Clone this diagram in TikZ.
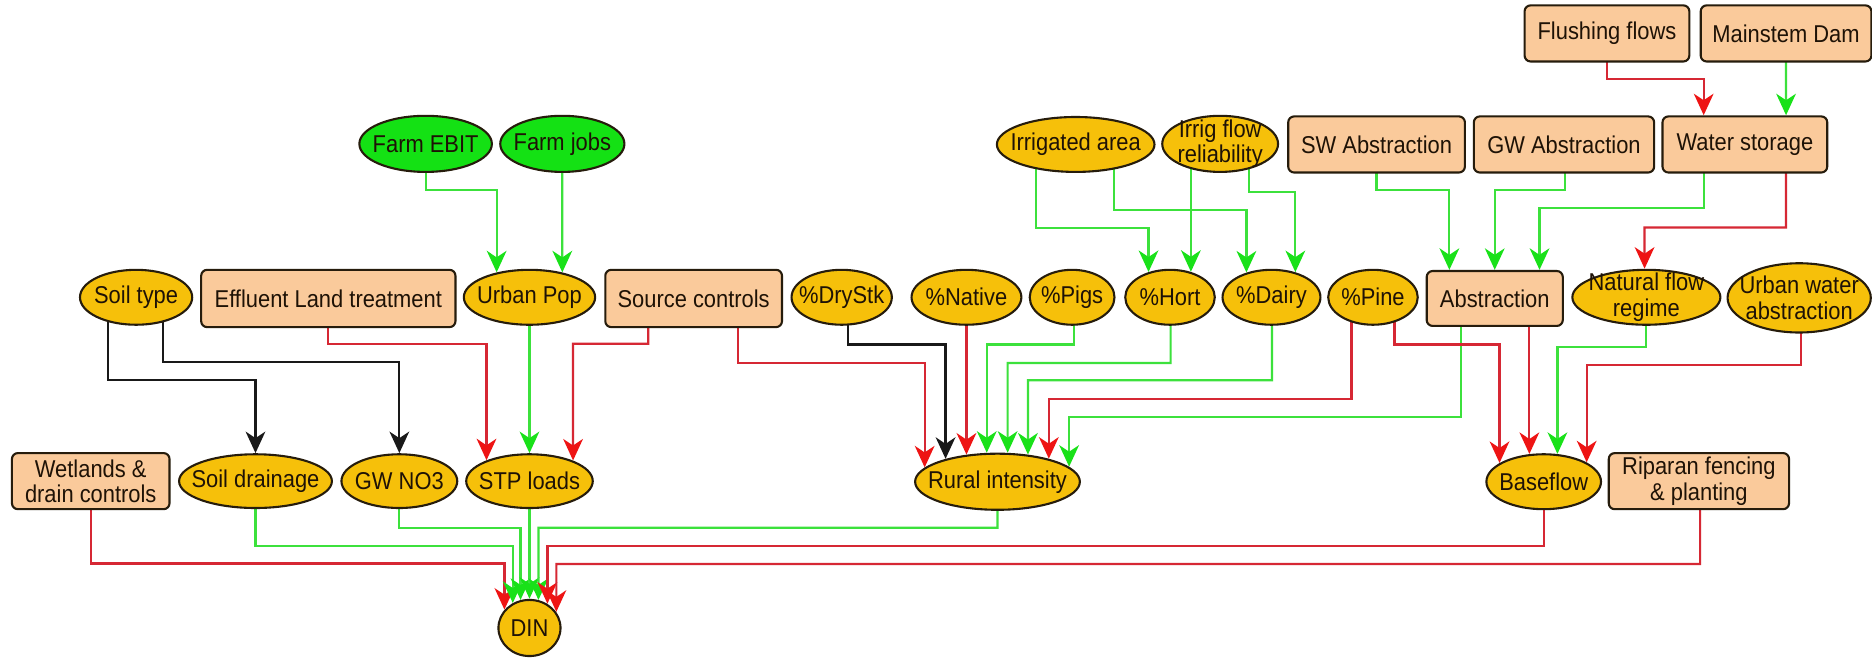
\documentclass[tikz,border=0pt]{standalone}
\usepackage{fontspec}
\setmainfont{Liberation Sans}[FakeStretch=0.9]
\usetikzlibrary{shapes.geometric,arrows.meta,backgrounds}

\definecolor{edge}{RGB}{38,28,12}
\definecolor{txt}{RGB}{30,18,6}
\definecolor{ylw}{RGB}{246,192,10}
\definecolor{peach}{RGB}{250,202,155}
\definecolor{grn}{RGB}{20,225,20}
\definecolor{redl}{RGB}{214,40,52}
\definecolor{redt}{RGB}{238,20,20}
\definecolor{grnl}{RGB}{60,225,60}
\definecolor{grnt}{RGB}{25,225,25}
\definecolor{blkl}{RGB}{25,25,25}

\tikzset{
  nodebase/.style={draw=edge, line width=1pt, inner xsep=-2cm, inner ysep=-1cm,
    align=center, text=txt, font=\fontsize{11.6}{12}\selectfont},
  yell/.style={nodebase, ellipse, fill=ylw},
  gell/.style={nodebase, ellipse, fill=grn},
  pbox/.style={nodebase, rectangle, rounded corners=0.1cm, fill=peach},
  wire/.style={line width=1.05pt},
  tip/.style={-{Stealth[length=0.36cm,width=0.33cm,inset=0.11cm,color=#1]}},
  rl/.style={wire, draw=redl, tip=redt},
  gl/.style={wire, draw=grnl, tip=grnt},
  kl/.style={wire, draw=blkl, tip=blkl},
}

% ellipse node: style, name, cx, cy, width, height, text
\newcommand\placeE[7]{%
  \node[#1, minimum width={#5*0.02cm}, minimum height={#6*0.02cm}] (#2) at (#3,#4) {#7};
  \expandafter\gdef\csname na-#2\endcsname{#5/2+1}%
  \expandafter\gdef\csname nb-#2\endcsname{#6/2+1}%
  \expandafter\gdef\csname nx-#2\endcsname{#3}%
}
% box node: same arguments, the top edge is flat
\newcommand\placeB[7]{%
  \node[#1, minimum width={#5*0.02cm}, minimum height={#6*0.02cm}] (#2) at (#3,#4) {#7};
  \expandafter\gdef\csname na-#2\endcsname{8000}%
  \expandafter\gdef\csname nb-#2\endcsname{#6/2+1}%
  \expandafter\gdef\csname nx-#2\endcsname{#3}%
}
% connector: style, source, source x-offset, bend level, target, target x-offset
\newcommand\conn[6]{%
  \edef\ca{\csname na-#5\endcsname}%
  \edef\cb{\csname nb-#5\endcsname}%
  \edef\cx{\csname nx-#5\endcsname}%
  \draw[#1] ([shift={(#3,0)}]#2.center) |- ({\cx+(#6)},#4)
     -- ([shift={(#6,{-(\cb)*sqrt(1-((#6)/(\ca))^2)})}]#5.center);
}

\begin{document}
\begin{tikzpicture}[x=0.02cm, y=-0.02cm]
\useasboundingbox (0,0) rectangle (1568,551);

% top row
\placeB{pbox}{flush}{1346}{28}{138}{47}{Flushing flows}
\placeB{pbox}{dam}{1496}{28}{143}{47}{Mainstem Dam}

% second row
\placeE{gell}{ebit}{356.5}{120.5}{111}{47}{Farm EBIT}
\placeE{gell}{jobs}{471}{120.5}{104}{47}{Farm jobs}
\placeE{yell}{irr}{901}{121}{132}{46}{Irrigated area}
\placeE{yell}{irf}{1022}{120.5}{97}{47}{Irrig flow\\reliability}
\placeB{pbox}{swa}{1153}{121}{148}{47}{SW Abstraction}
\placeB{pbox}{gwa}{1310}{121}{151}{47}{GW Abstraction}
\placeB{pbox}{ws}{1461.5}{121}{138}{47}{Water storage}

% third row
\placeE{yell}{soil}{114}{249}{94}{46}{Soil type}
\placeB{pbox}{eff}{275}{250}{213}{48}{Effluent Land treatment}
\placeE{yell}{upop}{443.5}{249}{110}{46}{Urban Pop}
\placeB{pbox}{src}{581}{250}{148}{48}{Source controls}
\placeE{yell}{dry}{705}{249}{84}{46}{\%DryStk}
\placeE{yell}{nat}{809.5}{249}{92}{46}{\%Native}
\placeE{yell}{pigs}{898}{249}{71}{46}{\%Pigs}
\placeE{yell}{hort}{980}{249}{75}{46}{\%Hort}
\placeE{yell}{dairy}{1065}{249}{82}{46}{\%Dairy}
\placeE{yell}{pine}{1150}{249}{75}{46}{\%Pine}
\placeB{pbox}{abs}{1252}{250}{114}{46}{Abstraction}
\placeE{yell}{nfr}{1379}{249}{124}{46}{Natural flow\\regime}
\placeE{yell}{uwa}{1507}{249.5}{120}{58}{Urban water\\abstraction}

% fourth row
\placeB{pbox}{wet}{76}{403}{132}{47}{Wetlands \&\\drain controls}
\placeE{yell}{sdr}{214}{403}{128}{45}{Soil drainage}
\placeE{yell}{gwn}{334.5}{403}{97}{45}{GW NO3}
\placeE{yell}{stp}{443.5}{403}{106}{45}{STP loads}
\placeE{yell}{rur}{835.5}{403.5}{138}{47}{Rural intensity}
\placeE{yell}{base}{1293}{403.5}{96}{46}{Baseflow}
\placeB{pbox}{rip}{1423}{403}{151}{47}{Riparan fencing\\\& planting}

% outcome
\placeE{yell}{din}{443.5}{526}{52}{47}{DIN}

\begin{pgfonlayer}{background}
\fill[white] (0,0) rectangle (1568,551);
% into Urban Pop
\conn{gl}{ebit}{0}{159}{upop}{-27.5}
\conn{gl}{jobs}{0}{180}{upop}{27.5}
% from Soil type
\conn{kl}{soil}{-23.5}{318}{sdr}{0}
\conn{kl}{soil}{22.5}{303}{gwn}{0}
% into STP loads
\conn{rl}{eff}{0}{288}{stp}{-36}
\conn{gl}{upop}{0}{320}{stp}{0}
\conn{rl}{src}{-38}{288}{stp}{36.5}
% into Rural intensity
\conn{rl}{src}{37}{304}{rur}{-61}
\conn{kl}{dry}{5}{288.5}{rur}{-43.5}
\conn{rl}{nat}{0}{320}{rur}{-26}
\conn{gl}{pigs}{1.5}{288.5}{rur}{-9}
\conn{gl}{hort}{0.5}{304}{rur}{8.5}
\conn{gl}{dairy}{0.5}{318.5}{rur}{25.5}
\conn{rl}{pine}{-18}{334}{rur}{43}
\conn{gl}{abs}{-28}{349.5}{rur}{60}
% into Baseflow
\conn{rl}{pine}{18}{288.5}{base}{-37}
\conn{rl}{abs}{29}{320}{base}{-12}
\conn{gl}{nfr}{0}{290.5}{base}{11.5}
\conn{rl}{uwa}{1.5}{306}{base}{36}
% irrigation
\conn{gl}{irr}{-33}{191}{hort}{-18}
\conn{gl}{irr}{32}{176}{dairy}{-21}
\conn{gl}{irf}{-24.5}{180}{hort}{17.5}
\conn{gl}{irf}{24}{160.5}{dairy}{20}
% abstraction and storage
\conn{gl}{swa}{0}{159}{abs}{-38}
\conn{gl}{gwa}{1}{159}{abs}{0}
\conn{gl}{ws}{-34.5}{174.5}{abs}{37.5}
\conn{rl}{ws}{34.5}{190.5}{nfr}{-1.5}
\conn{rl}{flush}{0}{66.5}{ws}{-34.5}
\conn{gl}{dam}{0}{70}{ws}{34.5}
% into DIN
\conn{rl}{wet}{0}{472}{din}{-21}
\conn{gl}{sdr}{0}{457}{din}{-14}
\conn{gl}{gwn}{0}{442}{din}{-7.5}
\conn{gl}{stp}{0}{480}{din}{0}
\conn{gl}{rur}{0}{442}{din}{7.5}
\conn{rl}{base}{0}{457}{din}{15}
\conn{rl}{rip}{1}{472.4}{din}{22.5}
\end{pgfonlayer}
\end{tikzpicture}
\end{document}
